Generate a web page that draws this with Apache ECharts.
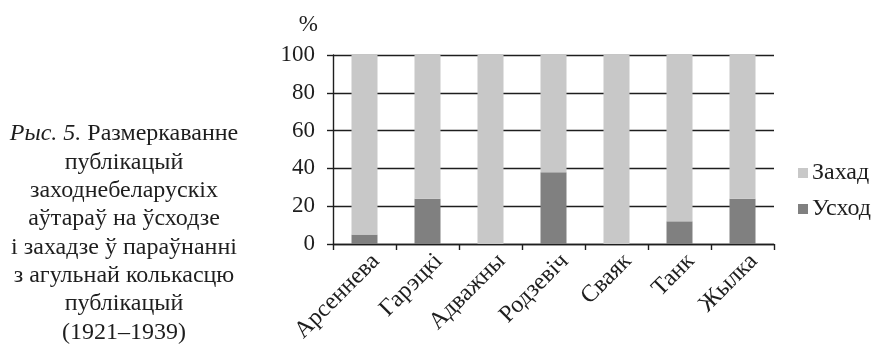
<!DOCTYPE html>
<html>
<head>
<meta charset="utf-8">
<script src="https://cdn.jsdelivr.net/npm/echarts@6/dist/echarts.min.js"></script>
<style>
  html, body { margin: 0; padding: 0; background: #fff; }
  #chart { width: 879px; height: 349px; }
</style>
</head>
<body>
<div id="chart"></div>
<script>
var authors = ['Арсеннева', 'Гарэцкі', 'Адважны', 'Родзевіч', 'Сваяк', 'Танк', 'Жылка'];
var east = [5, 24, 0, 38, 0, 12, 24];
var west = [95, 76, 100, 62, 100, 88, 76];
var yTicks = [0, 20, 40, 60, 80, 100];

var font = '"Liberation Serif", "DejaVu Serif", serif';
var ink = '#1e1e1e';

var chart = echarts.init(document.getElementById('chart'));
chart.setOption({
  animation: false,
  textStyle: { fontFamily: font, color: ink },
  grid: { left: 333, right: 105, top: 55, bottom: 105 },
  legend: {
    orient: 'vertical',
    left: 798,
    top: 161,
    padding: 0,
    itemWidth: 10,
    itemHeight: 10,
    itemGap: 12,
    icon: 'rect',
    data: ['Захад', 'Усход'],
    textStyle: { fontFamily: font, fontSize: 24, color: ink, padding: [0, 0, 0, -1] }
  },
  graphic: [{
    type: 'text',
    x: 124,
    y: 120,
    style: {
      text: '{i|Рыс. 5.} Размеркаванне\nпублікацый\nзаходнебеларускіх\nаўтараў на ўсходзе\nі захадзе ў параўнанні\nз агульнай колькасцю\nпублікацый\n(1921–1939)',
      align: 'center',
      verticalAlign: 'top',
      font: '24px ' + font,
      fill: ink,
      lineHeight: 28.3,
      rich: {
        i: { fontStyle: 'italic', fontFamily: font, fontSize: 24, lineHeight: 28.3, fill: ink }
      }
    }
  }],
  xAxis: {
    type: 'category',
    data: authors,
    axisLine: { lineStyle: { color: ink, width: 1.4 } },
    axisTick: { show: true, length: 6, lineStyle: { color: ink, width: 1.4 } },
    axisLabel: {
      rotate: 45,
      fontFamily: font,
      fontSize: 24,
      color: ink,
      margin: 8,
      verticalAlign: 'top',
      padding: [0, -4, 0, 0],
      interval: 0
    }
  },
  yAxis: {
    type: 'value',
    min: 0,
    max: 100,
    interval: 20,
    name: '%',
    nameLocation: 'end',
    nameGap: 30,
    nameTextStyle: { fontFamily: font, fontSize: 23, color: ink, align: 'right', verticalAlign: 'middle', padding: [0, 15, 0, 0] },
    axisLine: { show: true, lineStyle: { color: ink, width: 1.4 } },
    axisTick: { show: true, length: 6, lineStyle: { color: ink, width: 1.4 } },
    axisLabel: {
      fontFamily: font,
      fontSize: 23,
      color: ink,
      margin: 18,
      formatter: function (v) { return yTicks.indexOf(v) >= 0 ? String(v) : ''; }
    },
    splitLine: { lineStyle: { color: ink, width: 1.4 } }
  },
  series: [
    {
      name: 'Усход',
      type: 'bar',
      stack: 'total',
      barWidth: 26,
      data: east,
      itemStyle: { color: '#808080' }
    },
    {
      name: 'Захад',
      type: 'bar',
      stack: 'total',
      barWidth: 26,
      data: west,
      itemStyle: { color: '#c8c8c8' }
    }
  ]
});
</script>
</body>
</html>
